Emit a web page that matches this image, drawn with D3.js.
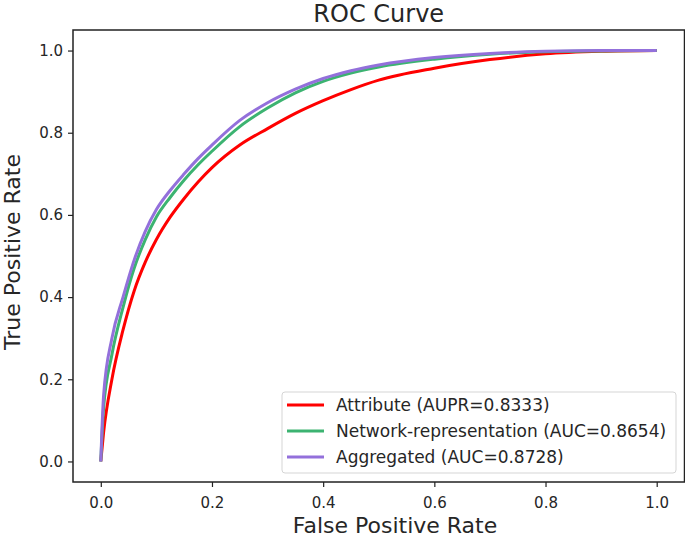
<!DOCTYPE html>
<html>
<head>
<meta charset="utf-8">
<script src="https://cdn.jsdelivr.net/npm/d3@7"></script>
<style>
    body { margin: 0; background: #fff; }
    text { font-family: "DejaVu Sans", sans-serif; fill: #262626; }
</style>
</head>
<body>
<div id="chart"></div>
<script>

var fpr = [0, 0.005, 0.02, 0.04, 0.06, 0.08, 0.1, 0.125, 0.15, 0.175, 0.2, 0.25, 0.3, 0.35, 0.4, 0.45, 0.5, 0.6, 0.7, 0.8, 0.9, 1.0];
var tprAttribute = [0, 0.07, 0.20, 0.32, 0.415, 0.485, 0.54, 0.595, 0.64, 0.68, 0.715, 0.77, 0.81, 0.847, 0.878, 0.905, 0.928, 0.957, 0.978, 0.992, 0.998, 1.0];
var tprNetwork = [0, 0.13, 0.26, 0.375, 0.47, 0.54, 0.595, 0.643, 0.685, 0.722, 0.755, 0.815, 0.86, 0.897, 0.925, 0.945, 0.96, 0.979, 0.991, 0.997, 0.999, 1.0];
var tprAggregated = [0, 0.16, 0.30, 0.40, 0.49, 0.56, 0.613, 0.66, 0.70, 0.737, 0.77, 0.83, 0.873, 0.906, 0.932, 0.951, 0.965, 0.983, 0.993, 0.998, 1.0, 1.0];

var seriesNames = ["Attribute (AUPR=0.8333)", "Network-representation (AUC=0.8654)", "Aggregated (AUC=0.8728)"];
var seriesColors = ["#ff0000", "#3cb371", "#9370db"];
var tickValues = [0, 0.2, 0.4, 0.6, 0.8, 1.0];

drawChart();

function drawChart() {

    var width = 685;
    var height = 539;
    var pLeft = 73, pRight = 684.5, pTop = 30, pBottom = 482; //plot frame

    var svg = d3.select("#chart")
        .append("svg")
        .attr("width", width)
        .attr("height", height);

    var x = d3.scaleLinear().domain([-0.05, 1.05]).range([pLeft, pRight]);
    var y = d3.scaleLinear().domain([-0.05, 1.05]).range([pBottom, pTop]);

    // curves, purple drawn last so it sits on top
    var allTpr = [tprAttribute, tprNetwork, tprAggregated];
    var line = d3.line()
        .x(function(d) { return x(d[0]); })
        .y(function(d) { return y(d[1]); })
        .curve(d3.curveMonotoneX);

    for (var s = 0; s < allTpr.length; s++) {
        var pts = fpr.map(function(f, i) { return [f, allTpr[s][i]]; });
        svg.append("path")
            .datum(pts)
            .attr("d", line)
            .attr("fill", "none")
            .attr("stroke", seriesColors[s])
            .attr("stroke-width", 3)
            .attr("stroke-linejoin", "round");
    }

    // axes
    var xAxis = d3.axisBottom(x).tickValues(tickValues).tickSize(5).tickPadding(10).tickFormat(d3.format(".1f"));
    var yAxis = d3.axisLeft(y).tickValues(tickValues).tickSize(5).tickPadding(5).tickFormat(d3.format(".1f"));

    var gx = svg.append("g").attr("transform", "translate(0," + pBottom + ")").call(xAxis);
    var gy = svg.append("g").attr("transform", "translate(" + pLeft + ",0)").call(yAxis);

    [gx, gy].forEach(function(g) {
        g.select(".domain").remove();
        g.selectAll(".tick line").attr("stroke", "#222").attr("stroke-width", 1.2);
        g.selectAll(".tick text")
            .attr("font-size", "15px")
            .attr("font-family", "DejaVu Sans, sans-serif")
            .attr("fill", "#262626");
    });

    // frame
    svg.append("rect")
        .attr("x", pLeft)
        .attr("y", pTop)
        .attr("width", pRight - pLeft)
        .attr("height", pBottom - pTop)
        .attr("fill", "none")
        .attr("stroke", "#222")
        .attr("stroke-width", 1.5);

    // titles
    svg.append("text")
        .attr("x", (pLeft + pRight) / 2)
        .attr("y", 22)
        .attr("text-anchor", "middle")
        .attr("font-size", "24px")
        .text("ROC Curve");

    svg.append("text")
        .attr("x", 395)
        .attr("y", 533)
        .attr("text-anchor", "middle")
        .attr("font-size", "22px")
        .text("False Positive Rate");

    svg.append("text")
        .attr("transform", "translate(20,252) rotate(-90)")
        .attr("text-anchor", "middle")
        .attr("font-size", "22px")
        .text("True Positive Rate");

    // legend
    var legend = svg.append("g");
    legend.append("rect")
        .attr("x", 282)
        .attr("y", 392)
        .attr("width", 394)
        .attr("height", 81)
        .attr("rx", 3)
        .attr("fill", "#fff")
        .attr("fill-opacity", 0.8)
        .attr("stroke", "#d5d5d5")
        .attr("stroke-width", 1);

    for (var k = 0; k < seriesNames.length; k++) {
        var ly = 405 + k * 26;
        legend.append("line")
            .attr("x1", 287)
            .attr("x2", 324)
            .attr("y1", ly)
            .attr("y2", ly)
            .attr("stroke", seriesColors[k])
            .attr("stroke-width", 3);
        legend.append("text")
            .attr("x", 336)
            .attr("y", ly + 6)
            .attr("font-size", "17px")
            .text(seriesNames[k]);
    }
}

</script>
</body>
</html>
